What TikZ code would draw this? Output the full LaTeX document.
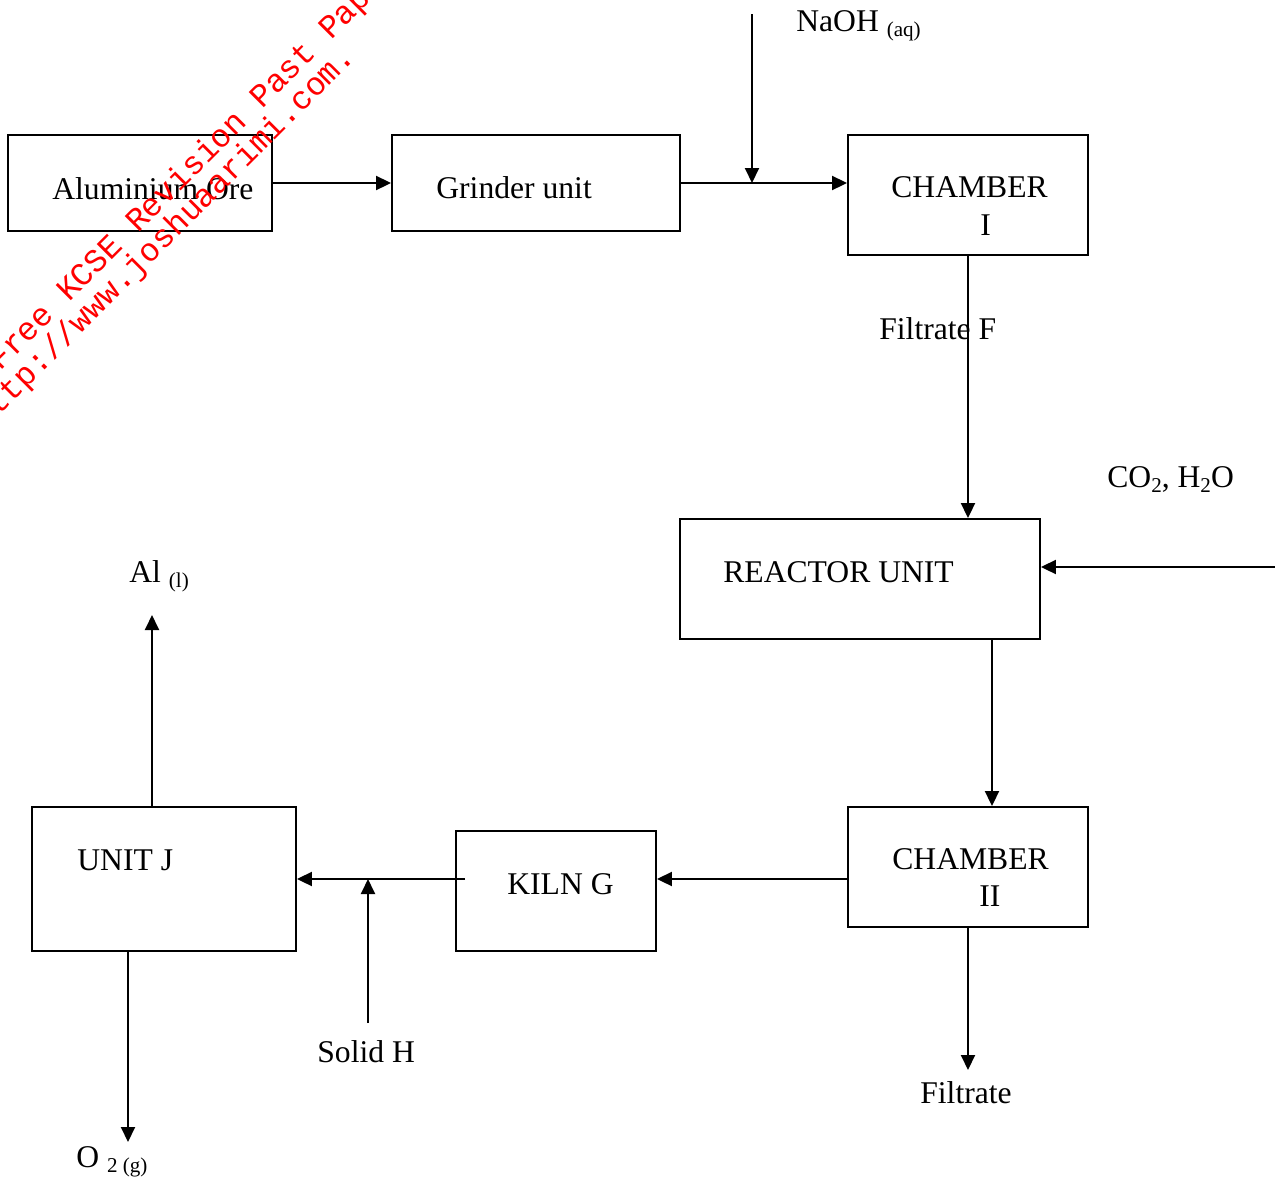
\documentclass[tikz,border=0pt]{standalone}
\usepackage{fontspec}
\setmainfont{Liberation Serif}
\newfontfamily\markfont{Liberation Mono}
\usepackage{xcolor}
\usepackage{tikz}
\usetikzlibrary{arrows.meta}

\newcommand{\chemsub}[1]{{\fontsize{12}{14}\selectfont\raisebox{-3pt}{#1}}}

\begin{document}
\begin{tikzpicture}[
    x=0.02cm, y=-0.02cm,
    >={Triangle[length=0.3cm,width=0.28cm]},
    box/.style 2 args={draw, line width=1.1pt, minimum width=#1,
                minimum height=#2, inner sep=0pt},
    txt/.style={font=\fontsize{18}{21}\selectfont, inner sep=0pt, anchor=base west},
    arr/.style={->, line width=1.1pt},
    wm/.style={font=\markfont\fontsize{18.5}{21}\selectfont, color=red,
                inner sep=0pt, anchor=base west, rotate=45},
  ]
  \useasboundingbox (0,0) rectangle (1275,1177);

  % Top row
  \node[box={5.28cm}{1.92cm}] (ore) at (140,183) {};
  \node[box={5.76cm}{1.92cm}] (grind) at (536,183) {};
  \node[box={4.8cm}{2.4cm}] (chamA) at (968,195) {};
  \node[txt] (oretxt) at (52,199) {Aluminium Ore};
  \node[txt] (grindtxt) at (436,198) {Grinder unit};
  \node[txt] (chamAtxt) at (891,197) {CHAMBER};
  \node[txt] (chamAnum) at (980,235) {I};

  % Reactor
  \node[box={7.2cm}{2.4cm}] (react) at (860,579) {};
  \node[txt] (reacttxt) at (723,582) {REACTOR UNIT};

  % Bottom row
  \node[box={4.8cm}{2.4cm}] (chamB) at (968,867) {};
  \node[box={4.0cm}{2.4cm}] (kiln) at (556,891) {};
  \node[box={5.28cm}{2.88cm}] (unit) at (164,879) {};
  \node[txt] (chamBtxt) at (892,869) {CHAMBER};
  \node[txt] (chamBnum) at (979,906) {II};
  \node[txt] (kilntxt) at (507,894) {KILN G};
  \node[txt] (unittxt) at (77,870) {UNIT J};

  % Streams in and out
  \node[txt] (naoh) at (796,31) {NaOH \chemsub{(aq)}};
  \node[txt] (filtF) at (879,339) {Filtrate F};
  \node[txt] (co2) at (1107,487) {CO\chemsub{2}, H\chemsub{2}O};
  \node[txt] (al) at (129,582) {Al \chemsub{(l)}};
  \node[txt] (solidH) at (317,1062) {Solid H};
  \node[txt] (filt) at (920,1103) {Filtrate};
  \node[txt] (o2) at (76,1167) {O \chemsub{2 (g)}};

  \coordinate (naohin) at (752,14);
  \coordinate (co2in) at (1275,567);
  \coordinate (mid) at (0,879);
  \coordinate (kilnout) at (465,879);
  \coordinate (hin) at (368,1023);
  \coordinate (alout) at (152,615);
  \coordinate (o2out) at (128,1142);
  \coordinate (filtout) at (968,1070);

  \draw[arr] (ore) -- (grind);
  \draw[arr] (grind.east) -- (grind.east -| chamA.west);
  \draw[arr] (naohin) -- (naohin |- grind.east);
  \draw[arr] (chamA.south) -- (chamA.south |- react.north);
  \draw[arr] (co2in) -- (co2in -| react.east);
  \draw[arr] ([xshift=2.64cm]react.south) -- ([xshift=0.48cm]chamB.north);
  \draw[arr] (mid -| chamB.west) -- (mid -| kiln.east);
  \draw[arr] (kilnout) -- (kilnout -| unit.east);
  \draw[arr] (hin) -- (hin |- mid);
  \draw[arr] (alout |- unit.north) -- (alout);
  \draw[arr] (o2out |- unit.south) -- (o2out);
  \draw[arr] (chamB.south) -- (filtout);

  % Watermark
  \begin{scope}
    \clip (0,0) rectangle (1275,1177);
    \node[wm] (markA) at (0,372) {Free KCSE Revision Past Papers};
    \node[wm] (markB) at (-16,431) {http://www.joshuaarimi.com.};
  \end{scope}
\end{tikzpicture}
\end{document}
